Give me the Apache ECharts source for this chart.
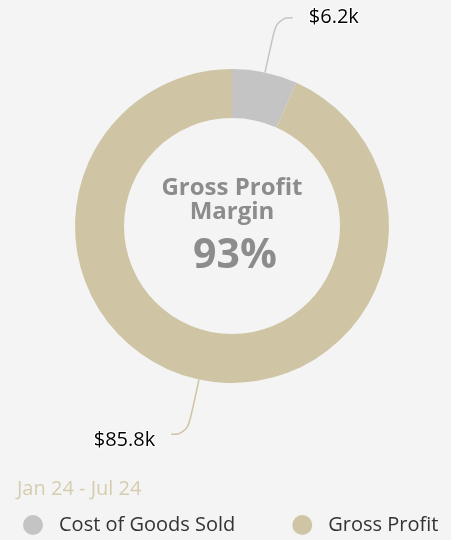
<!DOCTYPE html>
<html>
<head>
<meta charset="utf-8">
<script src="https://cdn.jsdelivr.net/npm/echarts@6/dist/echarts.min.js"></script>
<style>
  html, body { margin: 0; padding: 0; background: #f4f4f4; }
  #chart { width: 451px; height: 540px; }
</style>
</head>
<body>
<div id="chart"></div>
<script>
// Revenue split for the period, in thousands of dollars
const categories = ['Cost of Goods Sold', 'Gross Profit'];
const values = [6.2, 85.8];
const colors = ['#c4c4c4', '#cfc5a5'];
const periodLabel = 'Jan 24 - Jul 24';
const marginLabel = '93%';

const FONT = '"Open Sans", "Noto Sans", sans-serif';

const chart = echarts.init(document.getElementById('chart'), null, { renderer: 'canvas' });

chart.setOption({
  backgroundColor: '#f4f4f4',
  animation: false,
  color: colors,
  title: [
    {
      text: 'Gross Profit\nMargin',
      left: 227, top: 171, textAlign: 'center',
      textStyle: { fontFamily: FONT, fontSize: 24, fontWeight: 'bold', color: '#8c8c8c', lineHeight: 24 }
    },
    {
      text: marginLabel,
      left: 230, top: 231, textAlign: 'center',
      textStyle: { fontFamily: FONT, fontSize: 41, fontWeight: 'bold', color: '#8c8c8c' }
    },
    {
      text: periodLabel,
      left: 12, top: 474,
      textStyle: { fontFamily: FONT, fontSize: 20, fontWeight: 'normal', color: '#d6ccae' }
    }
  ],
  legend: {
    data: categories,
    left: 23, top: 515,
    padding: 0,
    icon: 'circle',
    itemWidth: 20, itemHeight: 20,
    itemGap: 57,
    textStyle: { fontFamily: FONT, fontSize: 20, color: '#333333', padding: [0, 0, 0, 11] }
  },
  series: [{
    type: 'pie',
    center: [232, 226],
    radius: [108, 157],
    startAngle: 90,
    clockwise: true,
    data: categories.map((name, i) => ({ name, value: values[i] })),
    label: {
      show: true,
      formatter: p => '$' + p.value + 'k',
      fontFamily: FONT,
      fontSize: 20,
      color: '#000000',
      textBorderColor: '#ffffff',
      textBorderWidth: 2,
      distanceToLabelLine: 16
    },
    labelLine: {
      show: true,
      length: 56,
      length2: 16,
      smooth: 0.5,
      lineStyle: { width: 1.5 }
    },
    // nudge the lower label a little further from the ring
    labelLayout: p => (p.dataIndex === 1 ? { dy: 6 } : {}),
    emphasis: { disabled: true }
  }]
});
</script>
</body>
</html>
